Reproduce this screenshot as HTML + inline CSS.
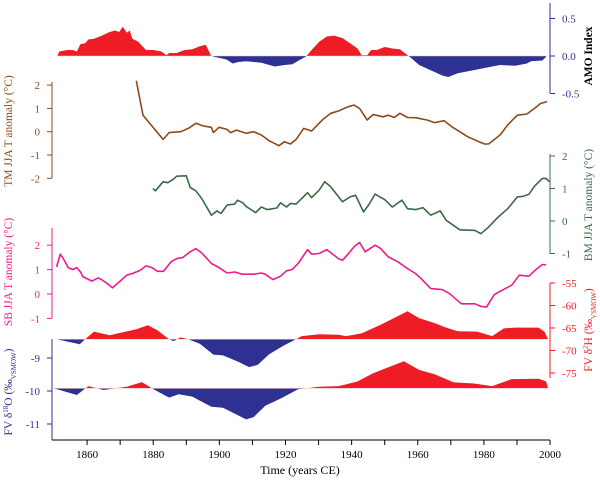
<!DOCTYPE html>
<html><head><meta charset="utf-8"><style>
html,body{margin:0;padding:0;background:#fff;}
svg{display:block;font-family:"Liberation Serif",serif;}
</style></head><body>
<svg id="chart" width="600" height="480" viewBox="0 0 600 480"></svg>
<script>
const amoYears=[1851,1851.6,1854,1855.7,1856.9,1858,1859.4,1860.4,1862.1,1864.4,1866.8,1868.5,1869.7,1870.8,1872,1872.9,1873.7,1875.5,1877.8,1880.1,1882.5,1884,1884.8,1887.1,1889.5,1891.8,1894.1,1895.9,1897.4,1898.3,1900.5,1902.3,1904,1905.7,1908.1,1910.4,1912.7,1915.1,1916.8,1919.7,1922.1,1924.4,1926.1,1927.9,1930.2,1932.5,1934.8,1937.2,1939.5,1941.8,1943,1944.7,1945.9,1947.6,1950,1952.3,1954.6,1956.9,1958.1,1960.4,1963.9,1967.4,1969.2,1972.1,1975.6,1979.1,1982.5,1984.9,1989.5,1993,1994.2,1997.7,1998.8];
const amoValues=[0,.06,.08,.08,.06,.16,.17,.22,.23,.27,.32,.34,.32,.39,.31,.34,.23,.19,.08,.08,.06,.01,.04,.04,.08,.09,.13,.15,.01,-.01,-.03,-.05,-.10,-.08,-.07,-.08,-.09,-.12,-.14,-.12,-.11,-.05,-.01,.08,.19,.26,.27,.24,.17,.10,.01,.01,.08,.08,.12,.10,.09,.01,-.03,-.12,-.19,-.26,-.28,-.23,-.20,-.17,-.14,-.12,-.13,-.10,-.07,-.06,-.01];
const tmYears=[1874.9,1876.9,1883,1884.8,1888.3,1890.6,1892.9,1895.3,1897.6,1898.2,1899.9,1902.3,1903.4,1905.2,1908.1,1910.4,1912.7,1915.1,1918,1919.7,1921.5,1923.2,1925.5,1927.9,1931.3,1933.7,1936,1938.9,1940.7,1942.4,1944.7,1946.5,1949.4,1951.1,1952.9,1954.6,1956.9,1959.3,1962.8,1965.1,1968,1970.3,1972.7,1975,1978.5,1980.2,1981.4,1984.9,1987.2,1990.1,1993,1995.3,1997.1,1999.1];
const tmValues=[2.19,.71,-.33,-.04,0,.14,.36,.24,.19,-.04,.19,.10,-.04,.07,-.07,0,-.14,-.39,-.60,-.43,-.53,-.33,.14,.03,.53,.79,.89,1.07,1.14,1.0,.50,.74,.64,.71,.61,.79,.61,.60,.50,.39,.47,.21,0,-.21,-.43,-.53,-.53,-.14,.29,.71,.76,1.0,1.21,1.29];
const bmYears=[1879.9,1880.7,1883,1884.4,1886,1887.1,1890,1891.2,1892.9,1894.7,1897.6,1899.3,1900.5,1902.3,1904.6,1905.5,1907.1,1908.1,1911,1912.7,1914.5,1917.4,1918.5,1920.3,1921.5,1923.2,1926.7,1927.9,1930.2,1931.9,1933.7,1937.2,1939.5,1941.2,1943.6,1945.3,1947.1,1948.2,1950,1952.3,1955.2,1956.9,1959.3,1961.6,1963.9,1966.8,1968.6,1972.7,1977.3,1979.1,1981.4,1984.3,1987.2,1990.1,1991.9,1993.6,1995.3,1997.7,1998.8,1999.8];
const bmValues=[1.0,.93,1.21,1.18,1.28,1.38,1.39,1.03,.93,.69,.18,.31,.23,.49,.52,.64,.56,.45,.26,.43,.35,.40,.56,.43,.54,.52,.87,.72,.95,1.21,1.05,.59,.74,.79,.28,.52,.83,.76,.66,.43,.64,.38,.35,.41,.18,.31,.02,-.27,-.29,-.39,-.19,.12,.38,.74,.76,.82,1.07,1.31,1.31,1.21];
const sbYears=[1850.8,1851.9,1852.8,1854.3,1855.7,1856.9,1858,1858.8,1861.5,1863.3,1864.4,1866.2,1867.7,1869.7,1872,1873.7,1876.1,1877.8,1879.6,1881.3,1883.1,1885.4,1887.1,1888.9,1891.2,1892.9,1894.7,1897.6,1899.9,1902.3,1904.6,1906.9,1910.4,1912.7,1913.9,1916.2,1918.5,1920.3,1922,1923.8,1926.7,1927.9,1930.2,1932.5,1936,1937.2,1938.9,1940.7,1942.4,1944.1,1947.1,1948.8,1951.1,1954,1956.9,1959.3,1961,1963.9,1967.4,1969.7,1973.2,1977.3,1979.1,1980.8,1983.1,1984.9,1988.4,1990.7,1993.6,1995.3,1997.7,1998.8];
const sbValues=[1.11,1.63,1.45,1.08,1.0,1.08,.90,.70,.53,.66,.59,.42,.25,.49,.77,.84,.97,1.15,1.08,.93,.93,1.32,1.45,1.49,1.73,1.86,1.68,1.25,1.08,.86,.90,.81,.81,.86,.81,.59,.73,.95,1.0,1.25,1.82,1.63,1.66,1.82,1.45,1.38,1.63,1.93,2.11,1.73,2.0,1.86,1.52,1.32,1.04,.84,.63,.22,.18,.01,-.40,-.40,-.51,-.53,-.03,.11,.36,.77,.73,.95,1.21,1.19];
const dHYears=[1850.8,1857.8,1859.4,1862.1,1866.8,1874.9,1878.4,1881.3,1884.8,1886.2,1888.3,1890.6,1894.1,1898.2,1901.1,1905.7,1909,1911.6,1915.1,1919.7,1923.2,1924.9,1930.2,1936,1938.3,1943,1948.8,1956.9,1960.4,1965.1,1968.6,1972.1,1977.9,1982.5,1986,1989.5,1996.5,1998.3,1999.4];
const dHValues=[-67.5,-68.6,-67.5,-65.8,-66.6,-65.3,-64.4,-65.5,-67.5,-67.9,-67.1,-67.5,-68.5,-70.9,-71.1,-72.5,-73.7,-73.2,-70.8,-68.8,-67.5,-66.8,-66.4,-66.5,-66.8,-66.2,-64.3,-61.3,-62.8,-63.9,-64.9,-65.7,-65.8,-66.8,-65.1,-64.9,-64.9,-65.8,-67.5];
const dOYears=[1850,1856.9,1860.4,1865,1872,1876.6,1880.1,1884.8,1887.7,1891.8,1897.6,1901.1,1908.1,1910.4,1913.9,1918.5,1923.8,1930.2,1936,1938.3,1941.8,1946.5,1955.8,1960.4,1965.1,1970.9,1976.7,1982.5,1988.4,1996.5,1998.8,1999.4];
const dOValues=[-9.92,-10.12,-9.85,-9.97,-9.87,-9.73,-9.95,-10.20,-10.10,-10.17,-10.48,-10.51,-10.86,-10.79,-10.45,-10.23,-9.95,-9.87,-9.85,-9.80,-9.71,-9.46,-9.10,-9.36,-9.49,-9.74,-9.77,-9.85,-9.64,-9.63,-9.71,-9.92];
const xTickYears=[1860,1880,1900,1920,1940,1960,1980,2000];
const amoTicks=[0.5,0.0,-0.5];
const tmTicks=[2,1,0,-1,-2];
const bmTicks=[2,1,0,-1];
const sbTicks=[2,1,0,-1];
const dHTicks=[-55,-60,-65,-70,-75];
const dOTicks=[-9,-10,-11];

const NS="http://www.w3.org/2000/svg";
const svg=document.getElementById('chart');
function mk(tag,attrs,parent){const e=document.createElementNS(NS,tag);for(const k in attrs)e.setAttribute(k,attrs[k]);(parent||svg).appendChild(e);return e;}
const X=y=>54+(y-1850)*3.307;
const yAMO=v=>56-v*75, yTM=v=>131.7-v*23.3, yBM=v=>221-v*32.5, ySB=v=>294-v*24.4;
const yDH=v=>283+(-55-v)*4.5, yDO=v=>358+(-9-v)*33;
const RED="#ee1c25",NAVY="#2e3192",BROWN="#8c4a1f",GREEN="#3a6b48",PINK="#ec1c8c";

// filled series with red above / blue below baseline
let clipId=0;
function filled(years,vals,yf,base,name){
  const by=yf(base);
  let d='M'+X(years[0]).toFixed(1)+','+by.toFixed(1);
  years.forEach((yr,i)=>{d+=' L'+X(yr).toFixed(1)+','+yf(vals[i]).toFixed(1);});
  d+=' L'+X(years[years.length-1]).toFixed(1)+','+by.toFixed(1)+' Z';
  const defs=mk('defs',{});
  const a='c'+(clipId++), b='c'+(clipId++);
  const ca=mk('clipPath',{id:a},defs); mk('rect',{x:0,y:0,width:600,height:by},ca);
  const cb=mk('clipPath',{id:b},defs); mk('rect',{x:0,y:by,width:600,height:480},cb);
  const p1=mk('path',{d:d,fill:RED,'clip-path':'url(#'+a+')'});
  
  
  const p2=mk('path',{d:d,fill:NAVY,'clip-path':'url(#'+b+')'});
  
  
  const bl=mk('line',{x1:X(years[0]),x2:X(years[years.length-1]),y1:by,y2:by,stroke:'#f4c0c0','stroke-width':0.6});
  
  
}
function line(years,vals,yf,color,name){
  const pts=years.map((yr,i)=>X(yr).toFixed(1)+','+yf(vals[i]).toFixed(1)).join(' ');
  const p=mk('polyline',{points:pts,fill:'none',stroke:color,'stroke-width':1.6,'stroke-linejoin':'round'});
  
  
}
function axis(side,x,y1,y2,ticks,yf,color,name,fmt){
  const g=mk('g',{});
  
  
  mk('line',{x1:x,x2:x,y1:y1,y2:y2,stroke:color,'stroke-width':1},g);
  ticks.forEach(t=>{
    const y=yf(t);
    const dx=side==='left'?-5:5;
    mk('line',{x1:x,x2:x+dx,y1:y,y2:y,stroke:color,'stroke-width':1},g);
    const tx=mk('text',{x:side==='left'?x-12:x+12,y:y+4,'font-size':11,fill:color,'text-anchor':side==='left'?'end':'start'},g);
    tx.textContent=fmt?fmt(t):String(t);
    
    
  });
}
function title(x,y,color,html,name,bold){
  const t=mk('text',{x:0,y:0,transform:'translate('+x+','+y+') rotate(-90)','text-anchor':'middle','font-size':11.5,fill:color,'font-weight':bold?'bold':'normal'});
  t.innerHTML=html;
  
  
}

filled(amoYears,amoValues,yAMO,0,'amo-index');
filled(dHYears,dHValues,yDH,-67.5,'fv-d2h');
filled(dOYears,dOValues,yDO,-9.92,'fv-d18o');
line(tmYears,tmValues,yTM,BROWN,'tm-temperature-line');
line(bmYears,bmValues,yBM,GREEN,'bm-temperature-line');
line(sbYears,sbValues,ySB,PINK,'sb-temperature-line');

axis('right',550,3,93,amoTicks,yAMO,NAVY,'amo-axis',t=>t.toFixed(1));
axis('left',52,82,178,tmTicks,yTM,BROWN,'tm-axis');
axis('right',550,154,254,bmTicks,yBM,GREEN,'bm-axis');
axis('left',52,228,318,sbTicks,ySB,PINK,'sb-axis');
axis('right',550,283,378,dHTicks,yDH,RED,'d2h-axis');
axis('left',52,339,440,dOTicks,yDO,NAVY,'d18o-axis');

// bottom axis
const xg=mk('g',{});


mk('line',{x1:52,x2:550,y1:440,y2:440,stroke:'#000','stroke-width':1},xg);
for(let yr=1860;yr<=2000;yr+=10){mk('line',{x1:X(yr),x2:X(yr),y1:440,y2:445,stroke:'#000','stroke-width':1},xg);}
xTickYears.forEach(yr=>{
  const t=mk('text',{x:X(yr),y:458,'font-size':11,'text-anchor':'middle',fill:'#000'},xg);
  t.textContent=yr;
  
  
});
const xt=mk('text',{x:300,y:474,'font-size':12,'text-anchor':'middle',fill:'#000'});
xt.textContent='Time (years CE)';



title(592,56,'#000','AMO Index','amo-axis-title',true);
title(12,131,BROWN,'TM JJA T anomaly (°C)','tm-axis-title');
title(592,205,GREEN,'BM JJA T anomaly (°C)','bm-axis-title');
title(12,272,PINK,'SB JJA T anomaly (°C)','sb-axis-title');
title(592,330,RED,'FV δ<tspan baseline-shift="super" font-size="7">2</tspan>H (‰<tspan baseline-shift="sub" font-size="7">VSMOW</tspan>)','d2h-axis-title');
title(12,392,NAVY,'FV δ<tspan baseline-shift="super" font-size="7">18</tspan>O (‰<tspan baseline-shift="sub" font-size="7">VSMOW</tspan>)','d18o-axis-title');
</script>
</body></html>
